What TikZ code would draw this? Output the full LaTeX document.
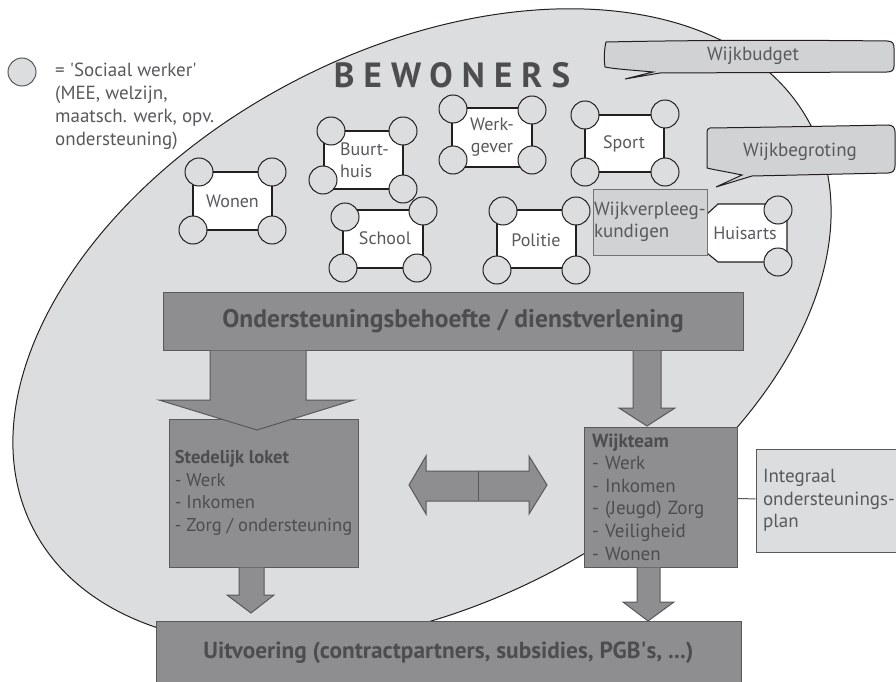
\documentclass[tikz,border=0pt]{standalone}
\usepackage{fontspec}
\setmainfont{PT Sans}
\usetikzlibrary{calc}
\definecolor{ellfill}{HTML}{DCDDDF}
\definecolor{boxfill}{HTML}{8E8E90}
\definecolor{boxline}{HTML}{58595B}
\definecolor{darktext}{HTML}{4D4D4F}
\definecolor{graytext}{HTML}{58595B}
\definecolor{calfill}{HTML}{D1D2D4}
\definecolor{inkline}{HTML}{231F20}
\begin{document}
\begin{tikzpicture}[x=1pt,y=-1pt,
  svbox/.style={draw=inkline, line width=1.1pt, fill=white, inner sep=0pt, text=graytext, font=\fontsize{18}{22}\selectfont},
  worker/.style={circle, draw=inkline, line width=1pt, fill=ellfill, minimum size=28pt, inner sep=0pt},
  bigbox/.style={draw=boxline, line width=1pt, fill=boxfill},
  blockarrow/.style={draw=boxline, line width=1pt, fill=boxfill, line join=miter},
  callout/.style={draw=inkline, line width=1pt, fill=calfill},
  lighttext/.style={text=graytext, font=\fontsize{19}{23}\selectfont},
]
\useasboundingbox (0,0) rectangle (896,682);
\begin{scope}
\clip (0,0) rectangle (896,682);
% big ellipse
\draw[fill=ellfill, line width=1pt, draw=inkline] (422,327) ellipse [x radius=438, y radius=277, rotate=27.5];

% legend
\node[worker, draw=black!65] (legend) at (22,72) {};
\node[lighttext, anchor=north west, align=left, inner sep=0pt] (legendtext) at (55,63)
  {= \textquotesingle Sociaal werker\textquotesingle\\(MEE, welzijn,\\maatsch. werk, opv.\\ondersteuning)};

% BEWONERS
\node[text=darktext, font=\fontsize{35}{40}\selectfont\bfseries\addfontfeatures{LetterSpace=26}] (bewoners) at (452,75) {BEWONERS};

% callouts
\filldraw[callout] (606,42) .. controls (700,40) and (800,40) .. (887,41)
  .. controls (893,41) and (894,44) .. (894,48) -- (894,66)
  .. controls (894,70) and (892,72) .. (887,72) -- (660,73) -- (625,79) -- (653,72)
  .. controls (632,70) and (614,69) .. (605,67) .. controls (604,60) and (604,50) .. (606,42) -- cycle;
\node[lighttext] (wijkbudget) at (753,56) {Wijkbudget};

\filldraw[callout] (710,128) .. controls (780,127) and (840,126) .. (888,125)
  .. controls (893,125) and (895,128) .. (895,132) -- (895,166)
  .. controls (895,170) and (893,173) .. (888,173) -- (752,176) -- (716,187) -- (742,175)
  .. controls (728,172) and (715,170) .. (707,168) -- (707,132) .. controls (707,130) and (708,128) .. (710,128) -- cycle;
\node[lighttext] (wijkbegroting) at (800,152) {Wijkbegroting};

% service boxes
\node[svbox, minimum width=79, minimum height=58] (wonen) at (232.5,201) {Wonen};
\node[worker] (wonen-tl) at (199,172) {};
\node[worker] (wonen-tr) at (272,172) {};
\node[worker] (wonen-bl) at (193,230) {};
\node[worker] (wonen-br) at (272,230) {};

\node[svbox, minimum width=79, minimum height=58] (buurthuis) at (363.5,160) {};
\node[worker] (buurthuis-tl) at (331,131) {};
\node[worker] (buurthuis-tr) at (403,131) {};
\node[worker] (buurthuis-bl) at (323,180) {};
\node[worker] (buurthuis-br) at (403,189) {};
\node[text=graytext, font=\fontsize{18}{22}\selectfont, align=left, anchor=west, inner sep=0pt] (buurthuistext) at (340,160) {Buurt-\\huis};

\node[svbox, minimum width=80, minimum height=59, align=center] (werkgever) at (492,137.5) {Werk-\\gever};
\node[worker] (werkgever-tl) at (453,109) {};
\node[worker] (werkgever-tr) at (532,110) {};
\node[worker] (werkgever-bl) at (453,160) {};
\node[worker] (werkgever-br) at (532,160) {};

\node[svbox, minimum width=79, minimum height=57] (sport) at (624.5,143.5) {};
\node[worker] (sport-tl) at (585,115) {};
\node[worker] (sport-tr) at (665,114) {};
\node[worker] (sport-bl) at (585,172) {};
\node[worker] (sport-br) at (665,172) {};
\node[text=graytext, font=\fontsize{18}{22}\selectfont] (sporttext) at (624,144) {Sport};

\node[svbox, minimum width=80, minimum height=58] (school) at (383,239) {};
\node[worker] (school-tl) at (345,217) {};
\node[worker] (school-tr) at (423,211) {};
\node[worker] (school-bl) at (343,268) {};
\node[worker] (school-br) at (417,268) {};
\node[text=graytext, font=\fontsize{18}{22}\selectfont] (schooltext) at (385,238) {School};

\node[svbox, minimum width=79, minimum height=58] (politie) at (536.5,239) {};
\node[worker] (politie-tl) at (503,211) {};
\node[worker] (politie-tr) at (576,211) {};
\node[worker] (politie-bl) at (497,270) {};
\node[worker] (politie-br) at (576,270) {};
\node[text=graytext, font=\fontsize{18}{22}\selectfont] (politietext) at (536,240) {Politie};

% Huisarts
\filldraw[draw=inkline, line width=1.1pt, fill=white] (718,204) -- (787,204) -- (787,262) -- (718,262) -- (707,253) -- (707,214) -- cycle;
\node[worker] (huisarts-tr) at (778,210) {};
\node[worker] (huisarts-br) at (778,262) {};
\node[text=graytext, font=\fontsize{18}{22}\selectfont] (huisarts) at (745,233) {Huisarts};

% Wijkverpleegkundigen
\node[draw=black!55, line width=1pt, fill=calfill, minimum width=114, minimum height=66, text width=112, inner xsep=1pt, align=left, text=graytext, font=\fontsize{19}{22}\selectfont] (wijkverpleeg) at (650,222) {\mbox{Wijkverpleeg-}\\kundigen};

% main boxes
\node[bigbox, minimum width=580, minimum height=58, text=darktext, font=\fontsize{25.5}{28}\selectfont\bfseries] (ond) at (453,321) {Ondersteuningsbehoefte / dienstverlening};

\node[bigbox, minimum width=189, minimum height=148, inner xsep=3pt, inner ysep=0pt, align=left, text=darktext, font=\fontsize{18.5}{22.5}\selectfont] (stedelijk) at (263.5,493)
  {\textbf{Stedelijk loket}\\- Werk\\- Inkomen\\- Zorg / ondersteuning};

\node[bigbox, minimum width=153, minimum height=140, text width=137, inner xsep=8pt, inner ysep=0pt, align=left, text=darktext, font=\fontsize{19}{22.6}\selectfont] (wijkteam) at (660.5,497)
  {\textbf{Wijkteam}\\- Werk\\- Inkomen\\- (Jeugd) Zorg\\- Veiligheid\\- Wonen};

\node[draw=boxline, line width=1pt, fill=ellfill, minimum width=160, minimum height=103, text width=146, inner xsep=7pt, align=left, text=graytext, font=\fontsize{19}{22.5}\selectfont] (integraal) at (836,500.5)
  {Integraal\\\mbox{ondersteunings-}\\plan};

\node[bigbox, minimum width=585, minimum height=64, text=darktext, font=\fontsize{23.3}{27}\selectfont\bfseries] (uitv) at (448.5,653)
  {Uitvoering (contractpartners, subsidies, PGB\textquotesingle s, ...)};

% block arrows
\filldraw[blockarrow] (210,0 |- ond.south) -- (210,400) -- (159,400) -- (257,430) -- (354,400) -- (306,400) -- (306,0 |- ond.south);
\filldraw[blockarrow] (633,0 |- ond.south) -- (633,408) -- (619,408) -- (647,426) -- (675,408) -- (661,408) -- (661,0 |- ond.south);
\filldraw[blockarrow] (239,0 |- stedelijk.south) -- (239,595) -- (227,595) -- (251,613) -- (274,595) -- (264,595) -- (264,0 |- stedelijk.south);
\filldraw[blockarrow] (637,0 |- wijkteam.south) -- (637,602) -- (623,602) -- (648,621) -- (674,602) -- (660,602) -- (660,0 |- wijkteam.south);

% double arrow between loket and wijkteam
\filldraw[blockarrow] (409,485) -- (426,456) -- (426,471) -- (529,471) -- (529,456) -- (547,485) -- (529,514) -- (529,501) -- (426,501) -- (426,514) -- cycle;
\draw[draw=boxline, line width=1pt] (478,471) -- (478,501);

% connector
\draw[draw=boxline, line width=1pt] (wijkteam) -- (integraal);
\end{scope}
\end{tikzpicture}
\end{document}
